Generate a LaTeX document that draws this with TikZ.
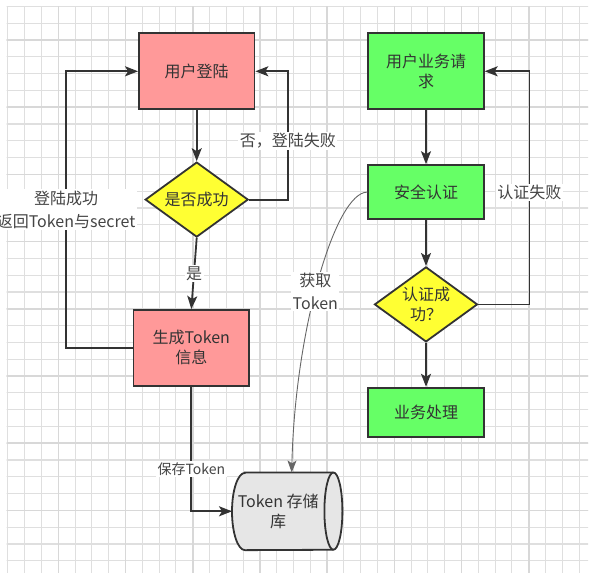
\documentclass[tikz,border=0pt]{standalone}
\usepackage{fontspec}
\setmainfont{Noto Sans CJK SC}
\usepackage{tikz}
\usetikzlibrary{arrows.meta}
\usetikzlibrary{positioning,shapes.geometric,backgrounds}

\definecolor{redfill}{HTML}{FF9999}
\definecolor{greenfill}{HTML}{66FF66}
\definecolor{yellowfill}{HTML}{FFFF33}
\definecolor{storefill}{HTML}{E6E6E6}
\definecolor{linegray}{HTML}{333333}
\definecolor{txtgray}{HTML}{333333}
\definecolor{labelgray}{HTML}{444444}
\definecolor{curvegray}{HTML}{666666}
\definecolor{gridminorgray}{HTML}{DFDFDF}
\definecolor{gridmajorgray}{HTML}{D8D8D8}

\begin{document}
\begin{tikzpicture}[x=1pt, y=1pt,
        boxtext/.style={font=\fontsize{16pt}{20pt}\selectfont, text=txtgray, align=center},
        redbox/.style={boxtext, draw=linegray, line width=1.8pt, fill=redfill, minimum width=115.5pt, minimum height=76pt, inner sep=2pt},
        greenbox/.style={boxtext, draw=linegray, line width=1.8pt, fill=greenfill, minimum width=115.5pt, inner sep=2pt},
        yellowdiamond/.style={boxtext, shape=diamond, draw=linegray, line width=1.8pt, fill=yellowfill, minimum width=103pt, minimum height=75pt, inner sep=0pt, shape aspect=1.4},
        storebox/.style={boxtext, minimum width=92pt, minimum height=77.3pt, inner sep=0pt},
        flowline/.style={draw=linegray, line width=1.8pt, -{Stealth[length=13pt, width=10pt, inset=3pt]}},
        fetchline/.style={draw=curvegray, line width=0.9pt, -{Stealth[length=12pt, width=9pt, inset=3pt]}},
        edgelabel/.style={fill=white, inner sep=1.5pt, text=labelgray, align=center, font=\fontsize{16pt}{23pt}\selectfont},
        smalllabel/.style={edgelabel, font=\fontsize{14pt}{18pt}\selectfont},
        gridminor/.style={draw=gridminorgray, line width=1.1pt},
        gridmajor/.style={draw=gridmajorgray, line width=1.6pt}]
    \useasboundingbox (0,0) rectangle (593,-572);

    \begin{scope}[on background layer]
        \clip (6.5,-6.5) rectangle (588,-572);
        \foreach \k in {-3,...,31} {
            \draw [gridminor] ({58.3+16.8*\k},0) -- ++(0,-580);
            \draw [gridminor] (0,{-40-16.8*\k}) -- ++(600,0);
        }
        \foreach \k in {-1,...,7} {
            \draw [gridmajor] ({58.3+67.2*\k},0) -- ++(0,-580);
            \draw [gridmajor] (0,{-40-67.2*\k}) -- ++(600,0);
        }
    \end{scope}

    \node [redbox] (loginnode) at (196.7,-71.3) {用户登陆};
    \node [yellowdiamond, below=51pt of loginnode] (checknode) {是否成功};
    \node [redbox, below=71pt of checknode, xshift=-5.4pt] (tokennode) {生成Token\\信息};

    \node [greenbox, minimum height=76pt, right=112pt of loginnode] (requestnode) {用户业务请\\求};
    \node [greenbox, minimum height=54pt, below=54pt of requestnode] (authnode) {安全认证};
    \node [yellowdiamond, below=46pt of authnode] (authchecknode) {认证成\\功？};
    \node [greenbox, minimum height=49pt, below=44pt of authchecknode] (worknode) {业务处理};

    \node [storebox] (storenode) at (278.2,-511.3) {Token 存储\\库};
    \begin{scope}[on background layer]
        \draw [draw=linegray, line width=1.8pt, fill=storefill] ([xshift=13pt]storenode.north west) -- ([xshift=9pt]storenode.north east) arc [start angle=90, end angle=-90, x radius=9pt, y radius=38.65pt] -- ([xshift=13pt]storenode.south west) arc [start angle=270, end angle=90, x radius=13pt, y radius=38.65pt] -- cycle;
        \draw [draw=linegray, line width=1.8pt] ([xshift=9pt]storenode.north east) arc [start angle=90, end angle=270, x radius=9pt, y radius=38.65pt];
    \end{scope}

    \draw [flowline] (loginnode) -- (checknode);

    \draw [flowline] (checknode.south) -- (tokennode.north) node [edgelabel, pos=0.5] {是};

    \draw [flowline] (checknode.east) -- ++(38.7,0) |- (loginnode.east) node [edgelabel, pos=0.23] {否，登陆失败};

    \draw [flowline] (tokennode.west) -- ++(-66.6,0) |- (loginnode.west) node [edgelabel, pos=0.25] {登陆成功\\返回Token与secret};

    \draw [flowline] (tokennode.south) |- (storenode.west) node [smalllabel, pos=0.33] {保存Token};

    \draw [flowline] (requestnode) -- (authnode);

    \draw [flowline] (authnode) -- (authchecknode);

    \draw [flowline] (authchecknode) -- (worknode);

    \draw [flowline] (authchecknode.east) -- ++(51,0) |- (requestnode.east) node [edgelabel, pos=0.24] {认证失败};

    \draw [fetchline] (authnode.west) .. controls +(-32,0) and +(3.3,142.7) .. ([xshift=13.5pt]storenode.north) node [edgelabel, pos=0.54] {获取\\Token};
\end{tikzpicture}
\end{document}
